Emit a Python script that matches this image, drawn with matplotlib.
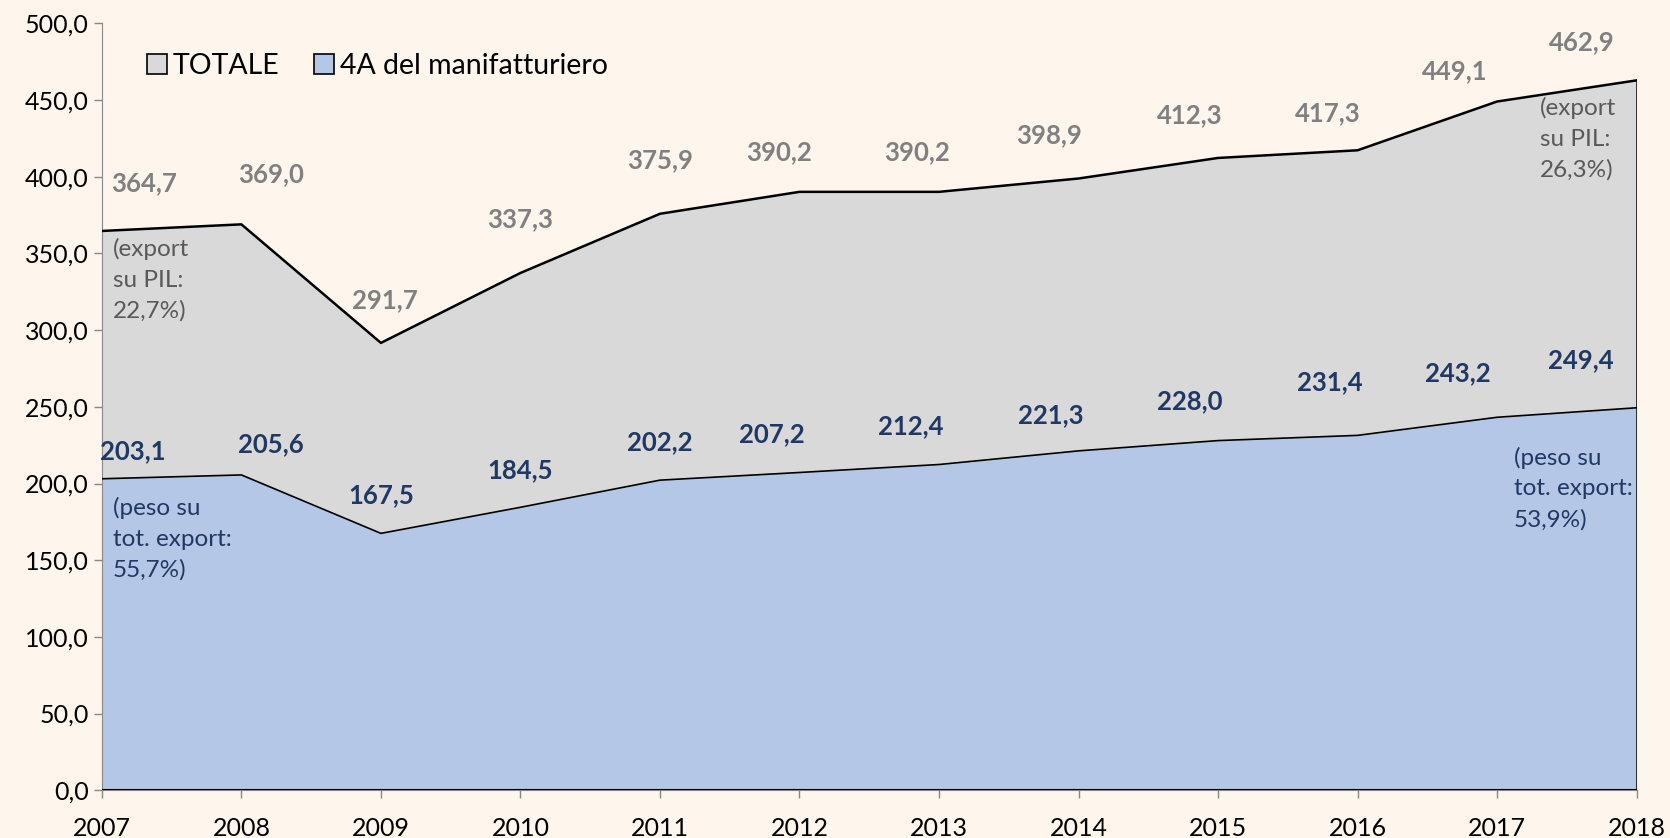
import matplotlib.pyplot as plt
from matplotlib.patches import Patch
from matplotlib.ticker import FuncFormatter

plt.rcParams['font.family'] = ['Lato', 'DejaVu Sans']

years = [2007, 2008, 2009, 2010, 2011, 2012, 2013, 2014, 2015, 2016, 2017, 2018]
totale = [364.7, 369.0, 291.7, 337.3, 375.9, 390.2, 390.2, 398.9, 412.3, 417.3, 449.1, 462.9]
manif_4a = [203.1, 205.6, 167.5, 184.5, 202.2, 207.2, 212.4, 221.3, 228.0, 231.4, 243.2, 249.4]

# hand placed label offsets (years, value units), like the excel original
tot_dx = [0.30, 0.21, 0.03, 0.0, 0.0, -0.15, -0.16, -0.21, -0.20, -0.21, -0.30, -0.39]
tot_dy = [31, 33, 28, 35, 35, 26, 26, 28, 28, 24, 20, 25]
man_dx = [0.22, 0.21, 0.0, 0.0, 0.0, -0.2, -0.2, -0.2, -0.2, -0.2, -0.28, -0.40]
man_dy = [18, 20, 25, 24, 25, 25, 25, 23, 26, 35, 29, 31]

bg = '#FEF5EC'
grey_fill = '#D9D9D9'
blue_fill = '#B4C7E7'
grey_txt = '#808080'
navy_txt = '#203864'

def fmt_it(v, pos=None):
    return f"{v:.1f}".replace('.', ',')

fig = plt.figure(figsize=(16.7, 8.38), dpi=100, facecolor=bg)
ax = fig.add_axes([0.061, 0.057, 0.919, 0.915])
ax.set_facecolor(bg)

ax.fill_between(years, 0, totale, color=grey_fill, lw=0, zorder=1)
ax.fill_between(years, 0, manif_4a, color=blue_fill, lw=0, zorder=2)
ax.plot(years, totale, color='black', lw=1.8, zorder=3)
ax.plot(years, manif_4a, color='black', lw=1.2, zorder=3)
ax.plot([years[-1], years[-1]], [0, totale[-1]], color='black', lw=1.8, zorder=3)
ax.plot([years[0], years[-1]], [0, 0], color='black', lw=1.5, zorder=3)

for i, y in enumerate(years):
    ax.text(y + tot_dx[i], totale[i] + tot_dy[i], fmt_it(totale[i]), color=grey_txt,
            fontsize=18.5, fontweight='bold', ha='center', va='center', zorder=4)
    ax.text(y + man_dx[i], manif_4a[i] + man_dy[i], fmt_it(manif_4a[i]), color=navy_txt,
            fontsize=18.5, fontweight='bold', ha='center', va='center', zorder=4)

# side notes
note_kw = dict(fontsize=17.5, ha='left', va='top', linespacing=1.55, zorder=4)
ax.text(2007.08, 360, "(export\nsu PIL:\n22,7%)", color='#595959', **note_kw)
ax.text(2017.31, 452, "(export\nsu PIL:\n26,3%)", color='#595959', **note_kw)
ax.text(2007.08, 191, "(peso su\ntot. export:\n55,7%)", color=navy_txt, **note_kw)
ax.text(2017.12, 224, "(peso su\ntot. export:\n53,9%)", color=navy_txt, **note_kw)

ax.set_xlim(years[0], years[-1])
ax.set_ylim(0, 500)
ax.set_yticks(range(0, 501, 50))
ax.yaxis.set_major_formatter(FuncFormatter(fmt_it))
ax.set_xticks(years)
ax.tick_params(axis='both', labelsize=18, colors='#888888', labelcolor='black',
               direction='out', length=6, width=1)
ax.tick_params(axis='x', pad=13)
for s in ['top', 'right']:
    ax.spines[s].set_visible(False)
for s in ['left', 'bottom']:
    ax.spines[s].set_color('#888888')

handles = [Patch(facecolor=grey_fill, edgecolor='black', lw=1.2, label='TOTALE'),
           Patch(facecolor=blue_fill, edgecolor='black', lw=1.2, label='4A del manifatturiero')]
ax.legend(handles=handles, loc='upper left', bbox_to_anchor=(0.013, 0.995), ncol=2,
          frameon=False, fontsize=20.5, handlelength=0.7, handleheight=0.7,
          handletextpad=0.2, columnspacing=1.2)

fig.savefig('out.png', dpi=100, facecolor=bg)
